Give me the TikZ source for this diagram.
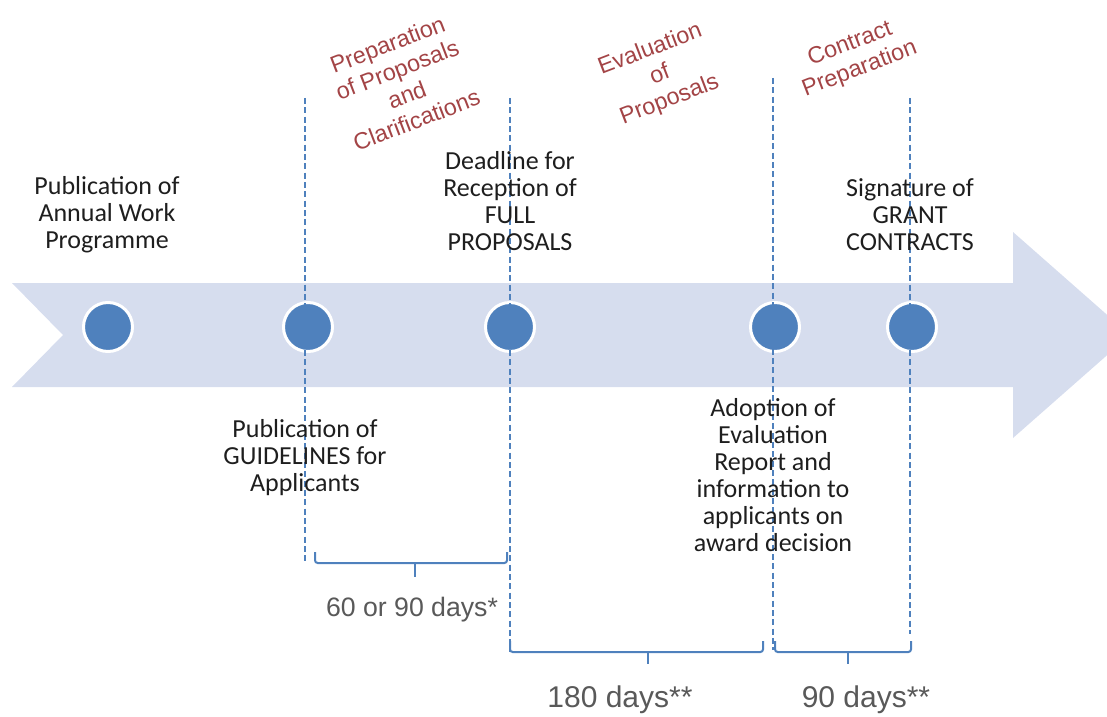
\documentclass[tikz,border=0pt]{standalone}
\usepackage{fontspec}
\setmainfont{Carlito}
\newfontfamily\arialf{Liberation Sans}
\definecolor{band}{RGB}{214,221,238}
\definecolor{dotblue}{RGB}{79,129,189}
\definecolor{phasered}{RGB}{163,68,70}
\definecolor{graytxt}{RGB}{89,89,89}
\definecolor{txt}{RGB}{30,30,30}
\begin{document}
\begin{tikzpicture}[x=0.75pt,y=-0.75pt,
  dot/.style={circle,fill=dotblue,draw=white,line width=2.25pt,minimum size=36.75pt,inner sep=0pt},
  milestone/.style={align=center,font=\fontsize{19.5}{20.25}\selectfont,text=txt,inner sep=0pt},
  phase/.style={align=center,font=\arialf\fontsize{17.5}{20.25}\selectfont,text=phasered,rotate=21,inner sep=0pt},
  guide/.style={draw=dotblue,line width=1.1pt,dash pattern=on 4.5pt off 2.5pt},
  bracket/.style={draw=dotblue,line width=1.5pt,rounded corners=2pt},
  dur/.style={font=\arialf\fontsize{20}{24}\selectfont,text=graytxt,inner sep=0pt},
  durbig/.style={font=\arialf\fontsize{22.5}{26}\selectfont,text=graytxt,inner sep=0pt}
]
\useasboundingbox (0,0) rectangle (1107,717);
\clip (0,0) rectangle (1107,717);
% timeline arrow
\fill[band] (12,283) -- (1013,283) -- (1013,232) -- (1130,335) -- (1013,438) -- (1013,387) -- (12,387) -- (63,335) -- cycle;
% milestones
\node[dot] (m1) at (108,327) {};
\node[dot] (m2) at (308,327) {};
\node[dot] (m3) at (510,327) {};
\node[dot] (m4) at (775,327) {};
\node[dot] (m5) at (912,327) {};
% guide lines
\coordinate (g1t) at (305,98);  \coordinate (g1b) at (305,563);
\coordinate (g2t) at (510,98);  \coordinate (g2b) at (510,652);
\coordinate (g3t) at (773,78);  \coordinate (g3b) at (773,650);
\coordinate (g4t) at (910,98);  \coordinate (g4b) at (910,634);
\draw[guide] (g1t) -- (g1b);
\draw[guide] (g2t) -- (g2b);
\draw[guide] (g3t) -- (g3b);
\draw[guide] (g4t) -- (g4b);
% brackets
\coordinate (b1l) at (315,552); \coordinate (b1r) at (507,552); \coordinate (b1m) at (415,563);
\draw[bracket] (b1l) -- (315,563) -- (507,563) -- (b1r);
\draw[draw=dotblue,line width=1.5pt] (b1m) -- ++(0,14);
\coordinate (b2l) at (510,641); \coordinate (b2r) at (763,641); \coordinate (b2m) at (648,652);
\draw[bracket] (b2l) -- (510,652) -- (763,652) -- (b2r);
\draw[draw=dotblue,line width=1.5pt] (b2m) -- ++(0,12);
\coordinate (b3l) at (775,641); \coordinate (b3r) at (911,641); \coordinate (b3m) at (848,652);
\draw[bracket] (b3l) -- (775,652) -- (911,652) -- (b3r);
\draw[draw=dotblue,line width=1.5pt] (b3m) -- ++(0,12);
% milestone labels
\node[milestone] (l1) at (107,215) {Publication of\\Annual Work\\Programme};
\node[milestone] (l2) at (305,458) {Publication of\\GUIDELINES for\\Applicants};
\node[milestone] (l3) at (510,201) {Deadline for\\Reception of\\FULL\\PROPOSALS};
\node[milestone] (l4) at (773,475) {Adoption of\\Evaluation\\Report and\\information to\\applicants on\\award decision};
\node[milestone] (l5) at (910,215) {Signature of\\GRANT\\CONTRACTS};
% phase labels
\node[phase] (p1) at (402,82) {Preparation\\of Proposals\\and\\Clarifications};
\node[phase] (p2) at (660,75) {Evaluation\\of\\Proposals};
\node[phase] (p3) at (855,57) {Contract\\Preparation};
% durations
\node[dur] (d1) at (412,610) {60 or 90 days*};
\node[durbig] (d2) at (620,700) {180 days**};
\node[durbig] (d3) at (866,700) {90 days**};
\end{tikzpicture}
\end{document}
